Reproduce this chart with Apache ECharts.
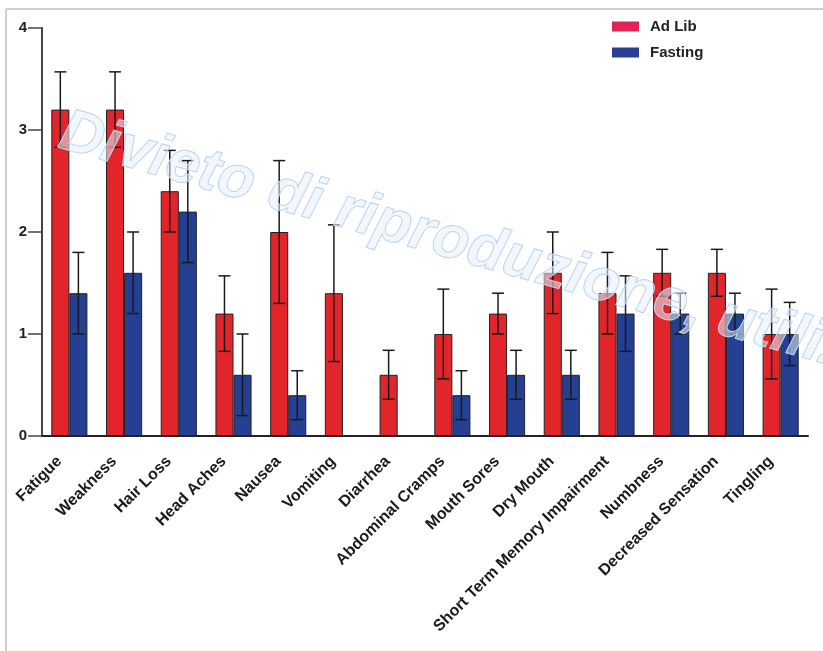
<!DOCTYPE html>
<html lang="en">
<head>
    <meta charset="UTF-8">
    <title>Symptoms</title>
    <script src="https://cdn.jsdelivr.net/npm/echarts@6/dist/echarts.min.js"></script>
    <style>
        html, body { margin: 0; padding: 0; background: #fff; }
        #chart { width: 823px; height: 651px; }
    </style>
</head>
<body>
<div id="chart"></div>
<script>
    var categories = ['Fatigue', 'Weakness', 'Hair Loss', 'Head Aches', 'Nausea', 'Vomiting', 'Diarrhea',
        'Abdominal Cramps', 'Mouth Sores', 'Dry Mouth', 'Short Term Memory Impairment', 'Numbness',
        'Decreased Sensation', 'Tingling'];
    var adLib = [3.2, 3.2, 2.4, 1.2, 2.0, 1.4, 0.6, 1.0, 1.2, 1.6, 1.4, 1.6, 1.6, 1.0];
    var adLibErr = [0.37, 0.37, 0.4, 0.37, 0.7, 0.67, 0.24, 0.44, 0.2, 0.4, 0.4, 0.23, 0.23, 0.44];
    var fasting = [1.4, 1.6, 2.2, 0.6, 0.4, 0, 0, 0.4, 0.6, 0.6, 1.2, 1.2, 1.2, 1.0];
    var fastingErr = [0.4, 0.4, 0.5, 0.4, 0.24, 0, 0, 0.24, 0.24, 0.24, 0.37, 0.2, 0.2, 0.31];
    var yTicks = [0, 1, 2, 3, 4];

    var gapRatio = 0.34;

    function errData(vals, errs) {
        var out = [];
        for (var i = 0; i < vals.length; i++) {
            if (errs[i] > 0) out.push([i, vals[i] - errs[i], vals[i] + errs[i]]);
        }
        return out;
    }

    // error bars sit on the centre of the red (side -1) or blue (side 1) bar
    function errRender(side) {
        return function (params, api) {
            var band = api.size([1, 0])[0];
            var barW = band * (1 - gapRatio) / 2;
            var lo = api.coord([api.value(0), api.value(1)]);
            var hi = api.coord([api.value(0), api.value(2)]);
            var x = lo[0] + side * barW / 2;
            var cap = 6;
            var st = { stroke: '#1a1a1a', lineWidth: 1.5 };
            return {
                type: 'group',
                children: [
                    { type: 'line', shape: { x1: x, y1: lo[1], x2: x, y2: hi[1] }, style: st },
                    { type: 'line', shape: { x1: x - cap, y1: hi[1], x2: x + cap, y2: hi[1] }, style: st },
                    { type: 'line', shape: { x1: x - cap, y1: lo[1], x2: x + cap, y2: lo[1] }, style: st }
                ]
            };
        };
    }

    var mychart = echarts.init(document.getElementById('chart'));

    var option = {
        backgroundColor: '#fff',
        animation: false,
        grid: { left: 42, right: 15, top: 28, bottom: 215 },
        legend: {
            orient: 'vertical',
            left: 612,
            top: 19,
            padding: 0,
            icon: 'rect',
            itemWidth: 27,
            itemHeight: 10,
            itemGap: 11,
            textStyle: { fontFamily: 'Liberation Sans', fontSize: 15, fontWeight: 'bold', color: '#222', padding: [0, 0, 0, 6] },
            data: [
                { name: 'Ad Lib', itemStyle: { color: '#e0245a', borderWidth: 0 } },
                { name: 'Fasting', itemStyle: { color: '#2a3f94', borderWidth: 0 } }
            ]
        },
        xAxis: {
            type: 'category',
            data: categories,
            axisLine: { lineStyle: { color: '#222', width: 2 } },
            axisTick: { alignWithLabel: true, length: 6, lineStyle: { color: '#333', width: 1.5 } },
            axisLabel: {
                rotate: 45,
                margin: 13,
                padding: [0, 14, 0, 0],
                interval: 0,
                fontFamily: 'Liberation Sans',
                fontWeight: 'bold',
                fontSize: 16,
                color: '#1a1a1a'
            }
        },
        yAxis: {
            type: 'value',
            min: yTicks[0],
            max: yTicks[yTicks.length - 1],
            interval: 1,
            splitLine: { show: false },
            axisLine: { show: true, lineStyle: { color: '#444', width: 2 } },
            axisTick: { show: true, length: 14, lineStyle: { color: '#444', width: 1.5 } },
            axisLabel: { margin: 15, fontFamily: 'Liberation Sans', fontWeight: 'bold', fontSize: 15, color: '#222' }
        },
        series: [
            {
                name: 'Ad Lib',
                type: 'bar',
                data: adLib,
                barGap: '0%',
                barCategoryGap: (gapRatio * 100) + '%',
                itemStyle: { color: '#e2252b', borderColor: '#222', borderWidth: 1 }
            },
            {
                name: 'Fasting',
                type: 'bar',
                data: fasting,
                itemStyle: { color: '#253f93', borderColor: '#222', borderWidth: 1 }
            },
            {
                type: 'custom',
                renderItem: errRender(-1),
                data: errData(adLib, adLibErr),
                z: 10
            },
            {
                type: 'custom',
                renderItem: errRender(1),
                data: errData(fasting, fastingErr),
                z: 10
            }
        ],
        graphic: [
            { type: 'line', shape: { x1: 6, y1: 9, x2: 823, y2: 9 }, style: { stroke: '#cfcfcf', lineWidth: 2 } },
            { type: 'line', shape: { x1: 6, y1: 9, x2: 6, y2: 651 }, style: { stroke: '#cfcfcf', lineWidth: 2 } },
            {
                type: 'text',
                x: 53,
                y: 160,
                rotation: -0.275,
                z: 100,
                style: {
                    text: 'Divieto di riproduzione, utilizzo riservato',
                    font: 'italic bold 60px "Liberation Sans"',
                    fill: 'rgba(232,241,252,0.55)',
                    stroke: '#a9c9ea',
                    lineWidth: 1,
                    textVerticalAlign: 'bottom'
                }
            }
        ]
    };

    mychart.setOption(option);
</script>
</body>
</html>
